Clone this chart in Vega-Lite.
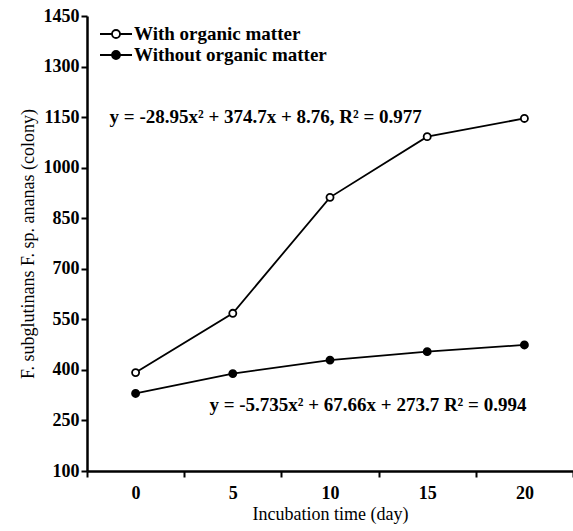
{
  "$schema": "https://vega.github.io/schema/vega-lite/v6.json",
  "width": 486,
  "height": 455,
  "autosize": "none",
  "padding": {"left": 87, "top": 16, "right": 0, "bottom": 60},
  "background": "white",
  "config": {
    "font": "Liberation Serif",
    "view": {"stroke": null},
    "axis": {
      "domainColor": "black",
      "domainWidth": 2.5,
      "tickColor": "black",
      "tickWidth": 2,
      "tickSize": 6,
      "labelColor": "black",
      "labelFont": "Times New Roman, Liberation Serif, serif",
      "labelFontSize": 18,
      "labelFontWeight": "bold",
      "titleColor": "black",
      "titleFont": "Times New Roman, Liberation Serif, serif",
      "titleFontSize": 18,
      "titleFontWeight": "normal",
      "grid": false
    }
  },
  "datasets": {
    "series": [
      {"day": "0", "treatment": "With organic matter", "colony": 392},
      {"day": "5", "treatment": "With organic matter", "colony": 568},
      {"day": "10", "treatment": "With organic matter", "colony": 912},
      {"day": "15", "treatment": "With organic matter", "colony": 1092},
      {"day": "20", "treatment": "With organic matter", "colony": 1146},
      {"day": "0", "treatment": "Without organic matter", "colony": 330},
      {"day": "5", "treatment": "Without organic matter", "colony": 389},
      {"day": "10", "treatment": "Without organic matter", "colony": 429},
      {"day": "15", "treatment": "Without organic matter", "colony": 454},
      {"day": "20", "treatment": "Without organic matter", "colony": 474}
    ],
    "eq1": [
      {"day": "0", "colony": 1150, "label": "y = -28.95x² + 374.7x + 8.76, R² = 0.977"}
    ],
    "eq2": [
      {"day": "20", "colony": 296, "label": "y = -5.735x² + 67.66x + 273.7 R² = 0.994"}
    ]
  },
  "layer": [
    {
      "data": {"name": "series"},
      "mark": {"type": "line", "color": "black", "strokeWidth": 1.8},
      "encoding": {
        "x": {
          "field": "day",
          "type": "ordinal",
          "sort": ["0", "5", "10", "15", "20"],
          "scale": {"type": "band", "paddingInner": 0, "paddingOuter": 0},
          "axis": {
            "title": "Incubation time (day)",
            "labelAngle": 0,
            "tickBand": "extent",
            "labelPadding": 7,
            "titlePadding": 3
          }
        },
        "y": {
          "field": "colony",
          "type": "quantitative",
          "scale": {"domain": [100, 1450], "nice": false, "zero": false},
          "axis": {
            "title": "F. subglutinans F. sp. ananas (colony)",
            "values": [100, 250, 400, 550, 700, 850, 1000, 1150, 1300, 1450],
            "format": "d",
            "labelPadding": 2,
            "titlePadding": 6
          }
        },
        "detail": {"field": "treatment"}
      }
    },
    {
      "data": {"name": "series"},
      "mark": {"type": "point", "shape": "circle", "filled": true, "stroke": "black", "strokeWidth": 1.8, "size": 50, "opacity": 1},
      "encoding": {
        "x": {"field": "day", "type": "ordinal", "sort": ["0", "5", "10", "15", "20"]},
        "y": {"field": "colony", "type": "quantitative"},
        "fill": {
          "field": "treatment",
          "type": "nominal",
          "scale": {"domain": ["With organic matter", "Without organic matter"], "range": ["white", "black"]},
          "legend": {
            "title": null,
            "orient": "none",
            "legendX": 18,
            "legendY": 7,
            "padding": 0,
            "symbolType": "M-1.6,0L-0.4,0M0.4,0L1.6,0M-0.4,0A0.4,0.4 0 1,1 0.4,0A0.4,0.4 0 1,1 -0.4,0Z",
            "symbolSize": 400,
            "symbolStrokeColor": "black",
            "symbolStrokeWidth": 1.8,
            "symbolOpacity": 1,
            "labelFont": "Times New Roman, Liberation Serif, serif",
            "labelFontSize": 19,
            "labelFontWeight": "bold",
            "labelColor": "black",
            "labelOffset": 7,
            "labelLimit": 0,
            "rowPadding": 0
          }
        }
      }
    },
    {
      "data": {"name": "eq1"},
      "mark": {"type": "text", "align": "left", "baseline": "middle", "dx": -26, "font": "Times New Roman, Liberation Serif, serif", "fontSize": 19, "fontWeight": "bold", "color": "black"},
      "encoding": {
        "x": {"field": "day", "type": "ordinal", "sort": ["0", "5", "10", "15", "20"]},
        "y": {"field": "colony", "type": "quantitative"},
        "text": {"field": "label"}
      }
    },
    {
      "data": {"name": "eq2"},
      "mark": {"type": "text", "align": "right", "baseline": "middle", "dx": 2, "font": "Times New Roman, Liberation Serif, serif", "fontSize": 19, "fontWeight": "bold", "color": "black"},
      "encoding": {
        "x": {"field": "day", "type": "ordinal", "sort": ["0", "5", "10", "15", "20"]},
        "y": {"field": "colony", "type": "quantitative"},
        "text": {"field": "label"}
      }
    }
  ]
}
